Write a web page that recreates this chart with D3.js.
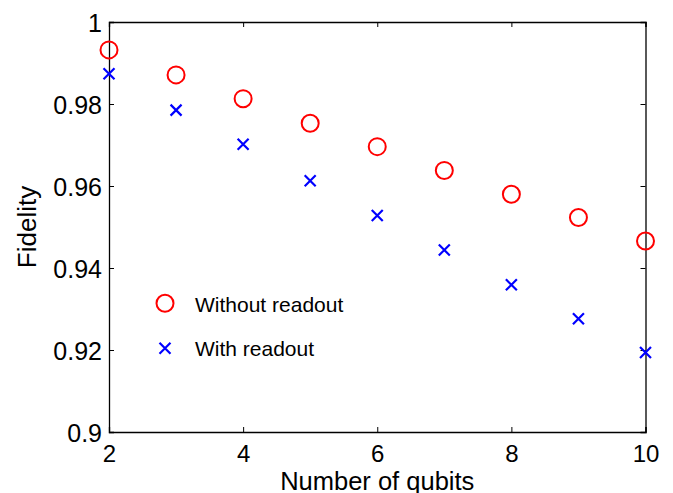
<!DOCTYPE html>
<html>
<head>
<meta charset="utf-8">
<script src="https://cdn.jsdelivr.net/npm/d3@7"></script>
<style>
  html, body { margin: 0; padding: 0; background: #fff; }
  svg { display: block; font-family: "Liberation Sans", Arial, Helvetica, sans-serif; }
</style>
</head>
<body>
<script>
// ---- data ----
const qubits = [2, 3, 4, 5, 6, 7, 8, 9, 10];
const withoutReadout = [0.9932, 0.9871, 0.9813, 0.9753, 0.9696, 0.9638, 0.9580, 0.9523, 0.9466];
const withReadout    = [0.9874, 0.9785, 0.9702, 0.9613, 0.9528, 0.9444, 0.9359, 0.9276, 0.9194];
const xTicks = [2, 4, 6, 8, 10];
const yTicks = [0.9, 0.92, 0.94, 0.96, 0.98, 1];
const yTickLabels = ["0.9", "0.92", "0.94", "0.96", "0.98", "1"];
const seriesNames = ["Without readout", "With readout"];
const xTitle = "Number of qubits";
const yTitle = "Fidelity";

const W = 673, H = 493;
const margin = { left: 109, right: 673 - 645.5, top: 22, bottom: 493 - 432 };

const svg = d3.select("body").append("svg").attr("width", W).attr("height", H);

const x = d3.scaleLinear().domain([2, 10]).range([margin.left, W - margin.right]);
const y = d3.scaleLinear().domain([0.9, 1]).range([H - margin.bottom, margin.top]);

const tickLen = 5;
// axes with inward ticks
const gB = svg.append("g").attr("transform", `translate(0,${y(0.9)})`)
  .call(d3.axisBottom(x).tickValues(xTicks).tickSize(-tickLen).tickPadding(13).tickFormat(d3.format("d")));
const gT = svg.append("g").attr("transform", `translate(0,${y(1)})`)
  .call(d3.axisTop(x).tickValues(xTicks).tickSize(-tickLen).tickFormat(""));
const gL = svg.append("g").attr("transform", `translate(${x(2)},0)`)
  .call(d3.axisLeft(y).tickValues(yTicks).tickSize(-tickLen).tickPadding(7)
    .tickFormat((d, i) => yTickLabels[i]));
const gR = svg.append("g").attr("transform", `translate(${x(10)},0)`)
  .call(d3.axisRight(y).tickValues(yTicks).tickSize(-tickLen).tickFormat(""));

[gB, gT, gL, gR].forEach(g => {
  g.select(".domain").attr("stroke", "#000").attr("stroke-width", 1.3);
  g.selectAll(".tick line").attr("stroke", "#000").attr("stroke-width", 1);
  g.selectAll(".tick text").attr("fill", "#000").attr("font-size", 25)
    .attr("font-family", "'Liberation Sans', Arial, sans-serif");
});
gB.selectAll(".tick text").attr("font-size", 24).attr("dy", "0.71em");
gL.selectAll(".tick text").attr("dy", "0.36em");

// titles
svg.append("text").attr("x", (x(2) + x(10)) / 2).attr("y", 489.5)
  .attr("text-anchor", "middle").attr("font-size", 25.5).attr("fill", "#000").text(xTitle);
svg.append("text").attr("transform", `translate(35.5,${(y(0.9) + y(1)) / 2}) rotate(-90)`)
  .attr("text-anchor", "middle").attr("font-size", 26).attr("fill", "#000").text(yTitle);

// markers
const r = 8.5, xs = 5.5;
const crossPath = s => `M${-s},${-s}L${s},${s}M${-s},${s}L${s},${-s}`;

svg.append("g").selectAll("circle").data(qubits).join("circle")
  .attr("cx", d => x(d)).attr("cy", (d, i) => y(withoutReadout[i]))
  .attr("r", r).attr("fill", "none").attr("stroke", "#ff0000").attr("stroke-width", 2);

svg.append("g").selectAll("path").data(qubits).join("path")
  .attr("transform", (d, i) => `translate(${x(d)},${y(withReadout[i])})`)
  .attr("d", crossPath(xs)).attr("fill", "none").attr("stroke", "#0000ff").attr("stroke-width", 2.2);

// legend
const leg = svg.append("g");
leg.append("circle").attr("cx", 165).attr("cy", 303.3).attr("r", r)
  .attr("fill", "none").attr("stroke", "#ff0000").attr("stroke-width", 2);
leg.append("path").attr("transform", "translate(165,348.3)").attr("d", crossPath(xs))
  .attr("fill", "none").attr("stroke", "#0000ff").attr("stroke-width", 2.2);
leg.append("text").attr("x", 195).attr("y", 311.5).attr("font-size", 21).attr("fill", "#000").text(seriesNames[0]);
leg.append("text").attr("x", 195).attr("y", 356).attr("font-size", 21).attr("fill", "#000").text(seriesNames[1]);
</script>
</body>
</html>
